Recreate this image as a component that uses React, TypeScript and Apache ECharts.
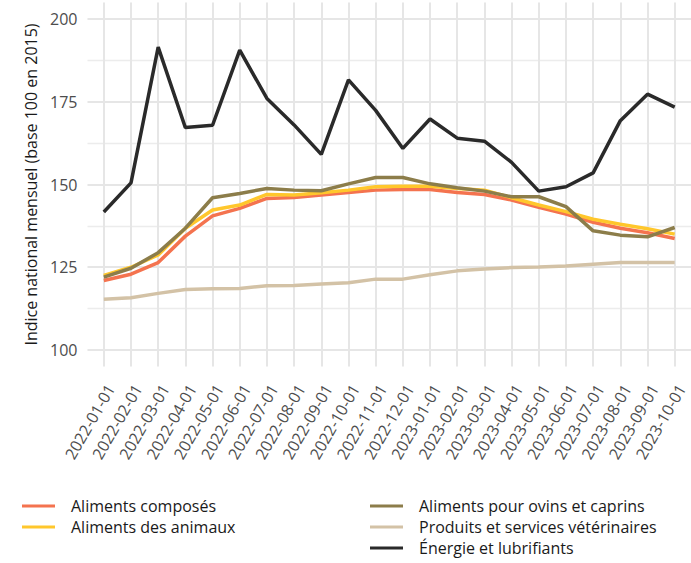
import React, { useEffect, useRef } from "react";
import * as echarts from "echarts";

const categories = [
  "2022-01-01", "2022-02-01", "2022-03-01", "2022-04-01", "2022-05-01", "2022-06-01",
  "2022-07-01", "2022-08-01", "2022-09-01", "2022-10-01", "2022-11-01", "2022-12-01",
  "2023-01-01", "2023-02-01", "2023-03-01", "2023-04-01", "2023-05-01", "2023-06-01",
  "2023-07-01", "2023-08-01", "2023-09-01", "2023-10-01",
];

const alimentsComposes = [
  121.0, 122.9, 126.4, 134.4, 140.5, 142.8, 145.8, 146.1, 146.8, 147.6, 148.3, 148.5,
  148.5, 147.6, 147.0, 145.3, 143.1, 141.1, 138.6, 136.8, 135.4, 133.7,
];
const alimentsAnimaux = [
  122.5, 125.0, 128.7, 136.8, 142.3, 143.8, 147.0, 146.8, 147.5, 148.3, 149.3, 149.5,
  149.5, 148.8, 148.3, 146.0, 143.8, 141.8, 139.5, 138.0, 136.6, 135.0,
];
const alimentsOvins = [
  122.0, 124.7, 129.4, 136.8, 146.0, 147.3, 148.8, 148.3, 148.1, 150.2, 152.1, 152.1,
  150.2, 149.0, 148.0, 146.3, 146.3, 143.3, 136.0, 134.7, 134.2, 137.0,
];
const produitsVeterinaires = [
  115.3, 115.8, 117.1, 118.3, 118.5, 118.6, 119.4, 119.5, 119.9, 120.3, 121.4, 121.4,
  122.7, 123.9, 124.5, 124.9, 125.1, 125.4, 125.9, 126.4, 126.4, 126.4,
];
const energieLubrifiants = [
  141.7, 150.5, 191.5, 167.2, 167.9, 190.6, 176.0, 168.0, 159.1, 181.6, 172.4, 160.9,
  169.8, 164.0, 163.1, 156.7, 148.0, 149.3, 153.5, 169.3, 177.3, 173.4,
];

const yMajorTicks = [100, 125, 150, 175, 200];
const yMinorTicks = [112.5, 137.5, 162.5, 187.5];

const seriesNames = [
  "Aliments composés",
  "Aliments des animaux",
  "Aliments pour ovins et caprins",
  "Produits et services vétérinaires",
  "Énergie et lubrifiants",
];
const seriesValues = [alimentsComposes, alimentsAnimaux, alimentsOvins, produitsVeterinaires, energieLubrifiants];
const seriesColors = ["#F4734F", "#FFC72C", "#8C7D4A", "#D3C2A6", "#2A2A2A"];

const FONT = "'Open Sans', 'Noto Sans', sans-serif";

export default function App() {
  const ref = useRef<HTMLDivElement>(null);
  useEffect(() => {
    document.body.style.margin = "0";
    if (!ref.current) return;
    const chart = echarts.init(ref.current, undefined, { renderer: "svg" });
    const xIdx = categories.map((_, i) => i);
    const legendCommon = {
      orient: "vertical" as const,
      top: 498,
      height: 70,
      padding: 0,
      itemWidth: 33,
      itemHeight: 3,
      itemGap: 5,
      icon: "rect",
      textStyle: {
        fontFamily: FONT,
        fontSize: 16,
        lineHeight: 16,
        color: "#1a1a1a",
        padding: [0, 0, 0, 11],
      },
    };
    chart.setOption({
      animation: false,
      backgroundColor: "#ffffff",
      textStyle: { fontFamily: FONT },
      grid: { left: 87.5, top: 2.5, width: 612, height: 364, containLabel: false },
      legend: [
        { ...legendCommon, left: 22, data: seriesNames.slice(0, 2) },
        { ...legendCommon, left: 370, data: seriesNames.slice(2) },
      ],
      xAxis: {
        type: "value",
        min: -0.6,
        max: 21.6,
        axisLine: { show: false },
        axisTick: { show: false, customValues: xIdx },
        splitLine: { show: true, lineStyle: { color: "#e6e6e6", width: 2 } },
        axisLabel: {
          customValues: xIdx,
          rotate: 60,
          margin: 15,
          verticalAlign: "top",
          fontFamily: FONT,
          fontSize: 16,
          color: "#4d4d4d",
          formatter: (v: number) => categories[Math.round(v)] ?? "",
        },
      },
      yAxis: [
        {
          type: "value",
          min: 95,
          max: 205,
          name: "Indice national mensuel (base 100 en 2015)",
          nameLocation: "middle",
          nameRotate: 90,
          nameGap: 47,
          nameTextStyle: { fontFamily: FONT, fontSize: 16, color: "#1a1a1a" },
          axisLine: { show: false },
          axisTick: { show: false, customValues: yMajorTicks },
          splitLine: { show: true, lineStyle: { color: "#e6e6e6", width: 2 } },
          axisLabel: {
            customValues: yMajorTicks,
            margin: 10,
            fontFamily: FONT,
            fontSize: 16,
            color: "#4d4d4d",
          },
        },
        {
          type: "value",
          min: 95,
          max: 205,
          position: "left",
          axisLine: { show: false },
          axisTick: { show: false, customValues: yMinorTicks },
          axisLabel: { show: false, customValues: yMinorTicks },
          splitLine: { show: true, lineStyle: { color: "#ececec", width: 1.3 } },
        },
      ],
      series: seriesNames.map((name, k) => ({
        name,
        type: "line",
        yAxisIndex: 0,
        showSymbol: false,
        symbol: "none",
        color: seriesColors[k],
        lineStyle: { width: 3.5, color: seriesColors[k] },
        data: seriesValues[k].map((v, i) => [i, v]),
      })),
    });
    return () => chart.dispose();
  }, []);
  return <div ref={ref} style={{ width: 691, height: 563 }} />;
}
